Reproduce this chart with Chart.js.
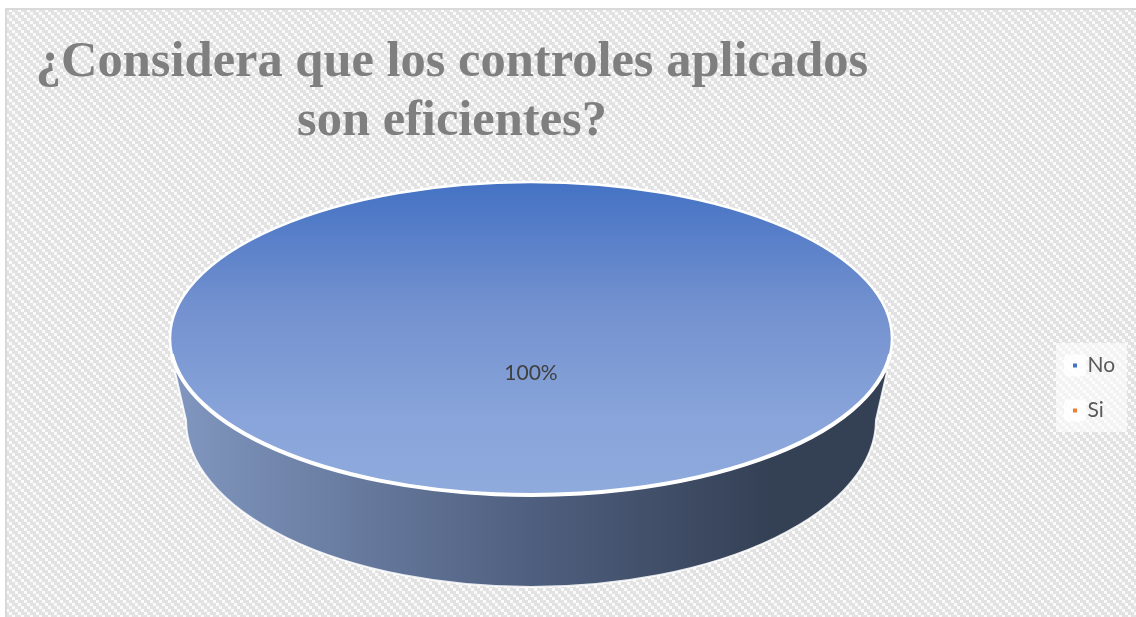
<!DOCTYPE html>
<html>
<head>
<meta charset="utf-8">
<style>
  html, body { margin: 0; padding: 0; background: #fff; }
  #wrap { width: 1136px; height: 617px; }
</style>
<script src="https://cdn.jsdelivr.net/npm/chart.js@4"></script>
</head>
<body>
<div id="wrap"><canvas id="chart" width="1136" height="617"></canvas></div>
<script>
const categories = ["No", "Si"];
const values = [100, 0];
const colors = ["#4472c4", "#ed7d31"];
const titleLines = ["¿Considera que los controles aplicados", "son eficientes?"];

// squashed disc on screen
const disc = { x: 531, y: 338.5, rx: 361, ry: 156.5 };
// lower rim of the disc wall, and where the wall leaves the disc
const base = { x: 531, y: 420, rx: 345, ry: 167 };
const wallTop = { y: 372, left: 175, right: 887 };
const frame = { left: 6, top: 9, right: 1136, bottom: 617 };
const legendPanel = { x: 1056, y: 343, w: 71, h: 89 };

function hatchPattern(ctx) {
  const tile = document.createElement("canvas");
  tile.width = 9;
  tile.height = 9;
  const t = tile.getContext("2d");
  t.fillStyle = "#e2e2e2";
  t.fillRect(0, 0, 9, 9);
  t.fillStyle = "#fbfbfb";
  for (let i = 0; i < 9; i += 3) {
    t.fillRect(i, i, 3, 3);
  }
  return ctx.createPattern(tile, "repeat");
}

const backdrop = {
  id: "backdrop",
  beforeDraw(chart) {
    const { ctx, legend } = chart;
    ctx.save();
    ctx.fillStyle = "#fff";
    ctx.fillRect(0, 0, chart.width, chart.height);
    ctx.fillStyle = hatchPattern(ctx);
    ctx.fillRect(frame.left, frame.top, frame.right - frame.left, frame.bottom - frame.top);
    ctx.strokeStyle = "#d9d9d9";
    ctx.lineWidth = 2;
    ctx.strokeRect(frame.left, frame.top, frame.right - frame.left + 4, frame.bottom - frame.top + 4);

    // pale panel behind the legend, with a lighter chip under each marker
    ctx.fillStyle = "rgba(255,255,255,0.6)";
    ctx.fillRect(legendPanel.x, legendPanel.y, legendPanel.w, legendPanel.h);
    ctx.fillStyle = "rgba(255,255,255,0.8)";
    legend.legendHitBoxes.forEach(box => {
      ctx.beginPath();
      ctx.roundRect(box.left - 9, box.top + box.height / 2 - 11, 22, 22, 4);
      ctx.fill();
    });
    ctx.restore();
  }
};

// the legend sits at a fixed spot in the panel, not beside the pie
const legendPlace = {
  id: "legendPlace",
  afterLayout(chart) {
    const legend = chart.legend;
    const pad = legend.options.labels.padding;
    legend.left = legendPanel.x + 17 - pad;
    legend.right = legendPanel.x + legendPanel.w;
    legend.width = legend.right - legend.left;
    legend.top = legendPanel.y + 12 - pad;
    legend.bottom = legend.top + 200;
    legend.height = 200;
  }
};

const disc3d = {
  id: "disc3d",
  beforeDatasetsDraw(chart) {
    const { ctx } = chart;
    const arc = chart.getDatasetMeta(0).data[0];

    // wall under the disc
    const wall = ctx.createLinearGradient(base.x - base.rx, 0, base.x + base.rx, 0);
    wall.addColorStop(0, "#7f95bd");
    wall.addColorStop(0.5, "#4f5f7f");
    wall.addColorStop(0.85, "#344054");
    wall.addColorStop(1, "#344054");
    ctx.save();
    ctx.beginPath();
    ctx.moveTo(wallTop.left, wallTop.y);
    ctx.lineTo(base.x - base.rx, base.y);
    ctx.ellipse(base.x, base.y, base.rx, base.ry, 0, Math.PI, 0, true);
    ctx.lineTo(wallTop.right, wallTop.y);
    ctx.closePath();
    ctx.fillStyle = wall;
    ctx.fill();
    ctx.strokeStyle = "rgba(255,255,255,0.85)";
    ctx.lineWidth = 2;
    ctx.stroke();
    ctx.restore();

    // the pie itself is drawn through this transform
    ctx.save();
    ctx.translate(disc.x, disc.y);
    ctx.scale(disc.rx / arc.outerRadius, disc.ry / arc.outerRadius);
    ctx.translate(-arc.x, -arc.y);
  },
  afterDatasetsDraw(chart) {
    const { ctx } = chart;
    ctx.restore();

    // white rim, heavier along the front edge
    ctx.save();
    ctx.strokeStyle = "#fff";
    ctx.beginPath();
    ctx.ellipse(disc.x, disc.y, disc.rx, disc.ry, 0, 0, Math.PI * 2);
    ctx.lineWidth = 2.5;
    ctx.stroke();
    ctx.beginPath();
    ctx.ellipse(disc.x, disc.y, disc.rx, disc.ry, 0, 0.1, Math.PI - 0.1);
    ctx.lineWidth = 4;
    ctx.stroke();

    // percentage label
    const total = values.reduce((a, b) => a + b, 0);
    ctx.fillStyle = "#404040";
    ctx.font = "21px Lato";
    ctx.textAlign = "center";
    ctx.textBaseline = "middle";
    ctx.fillText(Math.round(values[0] / total * 100) + "%", 531, 373);
    ctx.restore();
  }
};

function faceGradient(context) {
  const chart = context.chart;
  if (!chart.chartArea) return colors[0];
  const cy = (chart.chartArea.top + chart.chartArea.bottom) / 2;
  const r = Math.min(chart.chartArea.width, chart.chartArea.height) / 2;
  const g = chart.ctx.createLinearGradient(0, cy - r, 0, cy + r);
  g.addColorStop(0, "#4472c4");
  g.addColorStop(0.4, "#7391cf");
  g.addColorStop(0.75, "#88a4da");
  g.addColorStop(1, "#8faadc");
  return g;
}

new Chart(document.getElementById("chart"), {
  type: "pie",
  data: {
    labels: categories,
    datasets: [{
      data: values,
      backgroundColor: ctx => ctx.dataIndex === 0 ? faceGradient(ctx) : colors[1],
      borderWidth: 0
    }]
  },
  options: {
    responsive: false,
    animation: false,
    layout: { padding: { right: 232 } },
    plugins: {
      title: {
        display: true,
        text: titleLines,
        color: "#7f7f7f",
        font: { family: "'Liberation Serif'", size: 50.5, weight: "bold", lineHeight: 1.17 },
        padding: { top: 33, bottom: 10 }
      },
      legend: {
        position: "right",
        align: "start",
        onClick: null,
        labels: {
          generateLabels: () => categories.map((name, i) => ({
            text: name,
            fillStyle: colors[i],
            strokeStyle: colors[i],
            lineWidth: 0,
            pointStyle: "rect",
            fontColor: "#595959",
            index: i
          })),
          usePointStyle: true,
          pointStyleWidth: 4,
          boxHeight: 4,
          padding: 24,
          color: "#595959",
          font: { family: "Lato", size: 21 }
        }
      },
      tooltip: { enabled: false }
    }
  },
  plugins: [backdrop, legendPlace, disc3d]
});
</script>
</body>
</html>
